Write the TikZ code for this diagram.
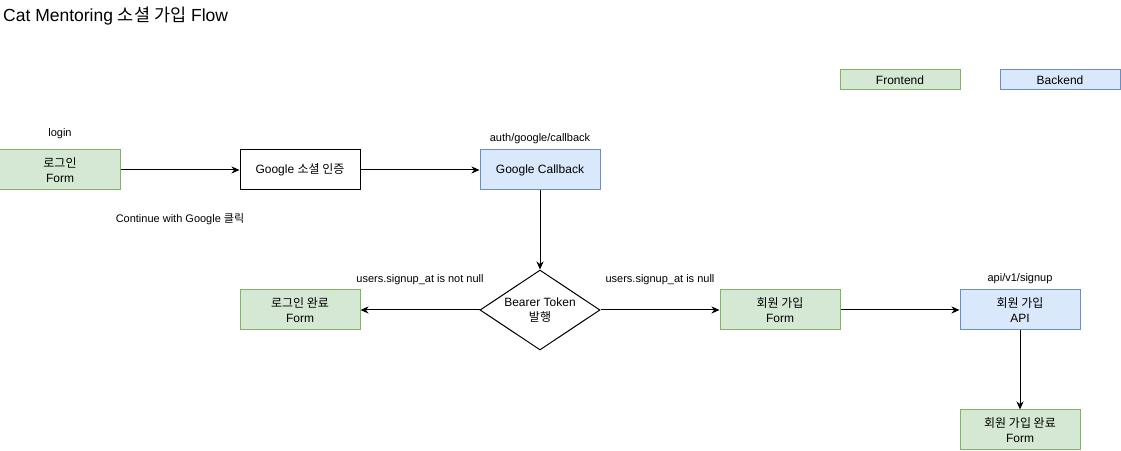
\documentclass[tikz,border=0pt]{standalone}
\usepackage{fontspec}
\setmainfont{Liberation Sans}
\newfontfamily\kr{Noto Sans CJK KR}
\usetikzlibrary{shapes.geometric,arrows.meta}
\definecolor{gfill}{HTML}{D5E8D4}
\definecolor{gline}{HTML}{82B366}
\definecolor{bfill}{HTML}{DAE8FC}
\definecolor{bline}{HTML}{6C8EBF}
\newcommand{\K}[1]{{\kr #1}}
\tikzset{
  box/.style={draw, line width=1bp, minimum width=120bp, minimum height=40bp, inner sep=0pt, align=center, font=\fontsize{12bp}{15bp}\selectfont},
  front/.style={box, fill=gfill, draw=gline},
  back/.style={box, fill=bfill, draw=bline},
  plain/.style={box, fill=white, draw=black},
  legend/.style={box, minimum height=20bp},
  lbl/.style={inner sep=0pt, font=\fontsize{11bp}{13bp}\selectfont},
  decision/.style={diamond, draw, line width=1bp, fill=white, minimum width=120bp, minimum height=80bp, inner sep=0pt, aspect=1.5, align=center, font=\fontsize{12bp}{15bp}\selectfont},
  conn/.style={line width=1bp, -{Stealth[length=8bp,width=7bp,inset=2.5bp]}}
}
\begin{document}
\begin{tikzpicture}[x=1bp,y=-1bp]
\useasboundingbox (0,0) rectangle (1121,451);
\node[lbl, anchor=west, font=\fontsize{17.5bp}{19bp}\selectfont] (title) at (3,16) {Cat Mentoring \K{소셜 가입} Flow};
\node[front, legend] (lfront) at (900,80) {Frontend};
\node[back, legend] (lback) at (1060,80) {Backend};

\node[front] (login) at (60,170) {\K{로그인}\\Form};
\node[lbl] (loginlbl) at (60,134) {login};
\node[plain] (google) at (300,170) {Google \K{소셜 인증}};
\node[back] (callback) at (540,170) {Google Callback};
\node[lbl] (cblbl) at (540,139) {auth/google/callback};
\node[lbl] (cont) at (180,219) {Continue with Google \K{클릭}};

\node[decision] (token) at (540,310) {Bearer Token\\\K{발행}};
\node[front] (done) at (300,310) {\K{로그인 완료}\\Form};
\node[front] (signup) at (780,310) {\K{회원 가입}\\Form};
\node[back] (api) at (1020,310) {\K{회원 가입}\\API};
\node[lbl] (apilbl) at (1020,279) {api/v1/signup};
\node[front] (fin) at (1020,430) {\K{회원 가입 완료}\\Form};

\node[lbl] (notnull) at (420,280) {users.signup\_at is not null};
\node[lbl] (isnull) at (660,280) {users.signup\_at is null};

\draw[conn] (login) -- (google);
\draw[conn] (google) -- (callback);
\draw[conn] (callback) -- (token);
\draw[conn] (token) -- (done);
\draw[conn] (token) -- (signup);
\draw[conn] (signup) -- (api);
\draw[conn] (api) -- (fin);
\end{tikzpicture}
\end{document}
